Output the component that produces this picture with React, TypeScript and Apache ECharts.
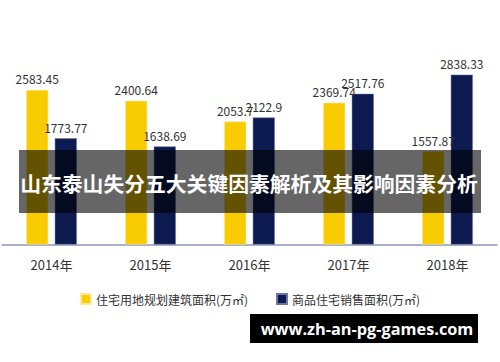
import React, { useEffect, useRef } from "react";
import * as echarts from "echarts";

const categories = ["2014年", "2015年", "2016年", "2017年", "2018年"];
const landArea = [2583.45, 2400.64, 2053.7, 2369.74, 1557.87];
const salesArea = [1773.77, 1638.69, 2122.9, 2517.76, 2838.33];
const seriesNames = ["住宅用地规划建筑面积(万㎡)", "商品住宅销售面积(万㎡)"];
const titleText = "山东泰山失分五大关键因素解析及其影响因素分析";
const watermark = "www.zh-an-pg-games.com";

const FONT = "'Noto Sans CJK SC', 'Noto Sans', sans-serif";

export default function App() {
  const ref = useRef<HTMLDivElement>(null);
  useEffect(() => {
    if (!ref.current) return;
    const chart = echarts.init(ref.current, undefined, { renderer: "svg" });
    const label = {
      show: true,
      position: "top" as const,
      distance: 5,
      color: "#333",
      fontSize: 12,
      fontFamily: FONT,
    };
    chart.setOption({
      animation: false,
      backgroundColor: "#fff",
      textStyle: { fontFamily: FONT },
      grid: { left: 2, right: 3, top: 65, bottom: 117.5 },
      legend: {
        top: 288,
        left: "center",
        itemWidth: 10,
        itemHeight: 10,
        itemGap: 28,
        icon: "rect",
        textStyle: { color: "#333", fontSize: 12, fontFamily: FONT },
        data: seriesNames,
      },
      xAxis: {
        type: "category",
        data: categories,
        axisLine: { lineStyle: { color: "#8e99b5", width: 1.5 } },
        axisTick: { show: false },
        axisLabel: { color: "#333", fontSize: 13, margin: 13, fontFamily: FONT },
      },
      yAxis: {
        type: "value",
        min: 0,
        max: 3000,
        show: false,
        splitLine: { show: false },
      },
      series: [
        {
          name: seriesNames[0],
          type: "bar",
          data: landArea,
          barWidth: 22,
          barGap: "30%",
          itemStyle: { color: "#F8CC00", borderColor: "#fbe9a0", borderWidth: 0.5 },
          label,
        },
        {
          name: seriesNames[1],
          type: "bar",
          data: salesArea,
          barWidth: 22,
          itemStyle: { color: "#0C1A4F", borderColor: "#6e76a0", borderWidth: 0.5 },
          label,
        },
      ],
      graphic: [
        {
          type: "rect",
          shape: { x: 19, y: 150, width: 462, height: 63 },
          style: { fill: "rgba(0,0,0,0.6)" },
          z: 100,
        },
        {
          type: "text",
          x: 249,
          y: 183,
          style: {
            text: titleText,
            fill: "#fff",
            fontSize: 20.8,
            fontWeight: "bold",
            fontFamily: "'Noto Sans CJK SC'",
            align: "center",
            verticalAlign: "middle",
          },
          z: 101,
        },
        {
          type: "rect",
          shape: { x: 250, y: 314, width: 228, height: 29 },
          style: { fill: "#000" },
          z: 100,
        },
        {
          type: "text",
          x: 367,
          y: 329,
          style: {
            text: watermark,
            fill: "#fff",
            fontSize: 16.3,
            fontWeight: "bold",
            fontFamily: "'Open Sans', sans-serif",
            align: "center",
            verticalAlign: "middle",
          },
          z: 101,
        },
      ],
    });
    return () => chart.dispose();
  }, []);
  return (
    <div
      ref={ref}
      style={{ position: "fixed", left: 0, top: 0, width: 500, height: 362 }}
    />
  );
}
